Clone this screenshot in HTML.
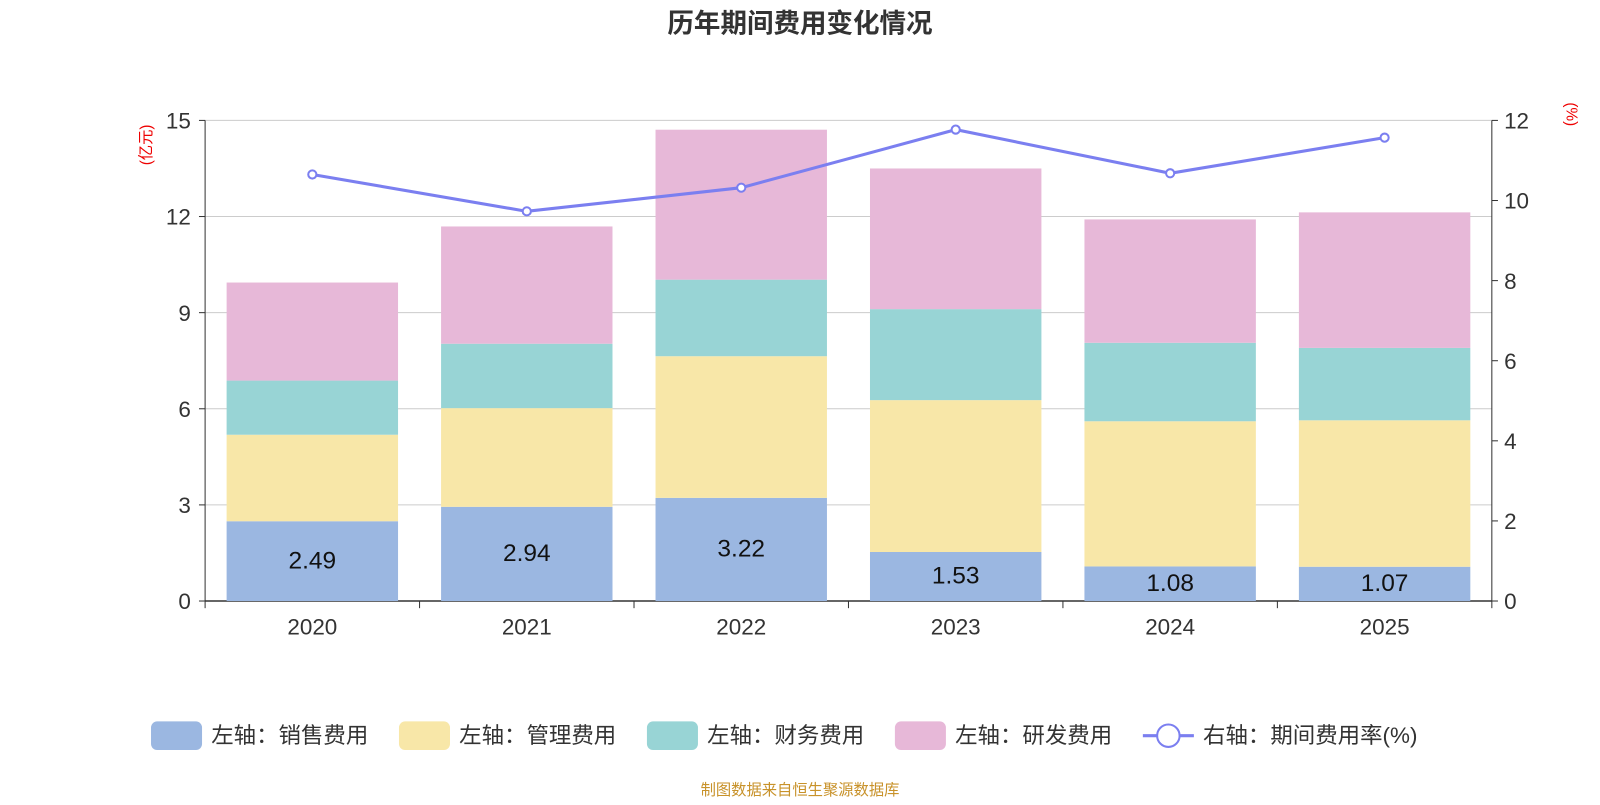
<!DOCTYPE html>
<html><head><meta charset="utf-8"><style>
body{margin:0;background:#fff;font-family:"Liberation Sans","Noto Sans CJK SC",sans-serif;}
svg text{font-family:"Liberation Sans","Noto Sans CJK SC",sans-serif;}
</style></head><body>
<svg id="c" width="1600" height="800" viewBox="0 0 1568 784" xmlns="http://www.w3.org/2000/svg">
<text x="784" y="32" text-anchor="middle" font-size="26" font-weight="bold" fill="#333">历年期间费用变化情况</text>
<text transform="translate(148,142) rotate(-90)" text-anchor="middle" font-size="15" fill="#e00">(亿元)</text>
<text transform="translate(1535,112) rotate(90)" text-anchor="middle" font-size="15" fill="#e00">(%)</text>
<g id="grid"></g><g id="bars"></g><g id="axes"></g><g id="line"></g>
<g id="legend"></g>
<text x="784" y="779" text-anchor="middle" font-size="15" fill="#c8922a">制图数据来自恒生聚源数据库</text>
</svg>
<script>
const years=["2020","2021","2022","2023","2024","2025"];
const sales=[2.49,2.94,3.22,1.53,1.08,1.07];
const admin=[2.70,3.08,4.42,4.74,4.53,4.57];
const finance=[1.69,2.01,2.39,2.84,2.45,2.26];
const rnd=[3.06,3.66,4.68,4.39,3.85,4.23];
const rate=[10.65,9.73,10.32,11.77,10.68,11.57];
const leftTicks=[0,3,6,9,12,15];
const rightTicks=[0,2,4,6,8,10,12];
const NS="http://www.w3.org/2000/svg";
const X0=201,X1=1462,Y0=589,Y1=118;
const band=(X1-X0)/years.length;
const xc=i=>X0+band*(i+0.5);
const yL=v=>Y0-(Y0-Y1)*v/15;
const yR=v=>Y0-(Y0-Y1)*v/12;
function mk(t,a,p){const e=document.createElementNS(NS,t);for(const k in a)e.setAttribute(k,a[k]);document.getElementById(p).appendChild(e);return e;}
leftTicks.forEach(v=>{
 const g=mk('line',{x1:X0,x2:X1,y1:yL(v),y2:yL(v),stroke:v===0?'#333':'#ccc','stroke-width':v===0?1.5:1},'grid');
 
 
 const t=mk('text',{x:187,y:yL(v)+8,'text-anchor':'end','font-size':22,fill:'#333'},'axes');t.textContent=v;
 
 
 const tk=mk('line',{x1:X0-6,x2:X0,y1:yL(v),y2:yL(v),stroke:'#333'},'axes');
 
 
});
rightTicks.forEach(v=>{
 const t=mk('text',{x:1474,y:yR(v)+8,'font-size':22,fill:'#333'},'axes');t.textContent=v;
 
 
 const tk=mk('line',{x1:X1,x2:X1+6,y1:yR(v),y2:yR(v),stroke:'#333'},'axes');
 
 
});
let a=mk('line',{x1:X0,x2:X0,y1:Y1,y2:Y0,stroke:'#333'},'axes');


a=mk('line',{x1:X1,x2:X1,y1:Y1,y2:Y0,stroke:'#333'},'axes');


for(let i=0;i<=years.length;i++){const t=mk('line',{x1:X0+band*i,x2:X0+band*i,y1:Y0,y2:Y0+7,stroke:'#333'},'axes');
 
 }
const series=[[sales,'#9bb7e1','sales'],[admin,'#f8e7a8','admin'],[finance,'#98d4d5','finance'],[rnd,'#e7b8d8','rnd']];
const bw=168;
years.forEach((y,i)=>{
 let base=0;
 series.forEach(([arr,col,nm])=>{
  const r=mk('rect',{x:xc(i)-bw/2,y:yL(base+arr[i]),width:bw,height:yL(base)-yL(base+arr[i]),fill:col},'bars');
  
  
  base+=arr[i];
 });
 const l=mk('text',{x:xc(i),y:(yL(0)+yL(sales[i]))/2+7,'text-anchor':'middle','font-size':24,fill:'#111'},'bars');l.textContent=sales[i].toFixed(2);
 
 
 const t=mk('text',{x:xc(i),y:622,'text-anchor':'middle','font-size':22,fill:'#333'},'axes');t.textContent=y;
 
 
});
const pl=mk('polyline',{points:rate.map((v,i)=>xc(i)+','+yR(v)).join(' '),fill:'none',stroke:'#7b7ff0','stroke-width':3},'line');


rate.forEach((v,i)=>{const c=mk('circle',{cx:xc(i),cy:yR(v),r:4,fill:'#fff',stroke:'#7b7ff0','stroke-width':2},'line');
 
 });
const leg=[['左轴：销售费用','#9bb7e1',148],['左轴：管理费用','#f8e7a8',391],['左轴：财务费用','#98d4d5',634],['左轴：研发费用','#e7b8d8',877]];
leg.forEach(([txt,col,x])=>{
 const r=mk('rect',{x:x,y:707,width:50,height:28,rx:6,fill:col},'legend');
 
 
 const t=mk('text',{x:x+59,y:728,'font-size':22,fill:'#333'},'legend');t.textContent=txt;
 
 
});
let ll=mk('line',{x1:1120,x2:1170,y1:721,y2:721,stroke:'#7b7ff0','stroke-width':3},'legend');


ll=mk('circle',{cx:1145,cy:721,r:11,fill:'#fff',stroke:'#7b7ff0','stroke-width':2},'legend');


ll=mk('text',{x:1179,y:728,'font-size':22,fill:'#333'},'legend');ll.textContent='右轴：期间费用率(%)';


</script>
</body></html>
